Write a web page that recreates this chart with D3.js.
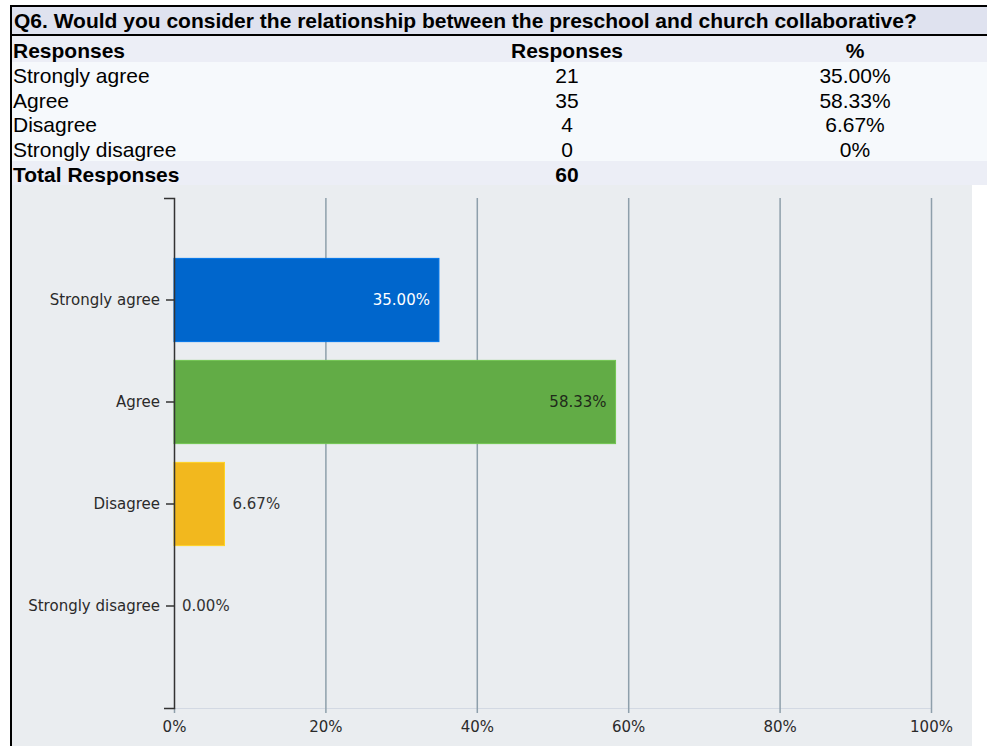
<!DOCTYPE html>
<html>
<head>
<meta charset="utf-8">
<script src="https://cdn.jsdelivr.net/npm/d3@7"></script>
<style>
  body { margin: 0; background: #fff; }
  svg { display: block; }
</style>
</head>
<body>
<div id="chart"></div>
<script>
// question + table data
const title = "Q6. Would you consider the relationship between the preschool and church collaborative?";
const categories = ["Strongly agree", "Agree", "Disagree", "Strongly disagree"];
const counts = [21, 35, 4, 0];
const tablePct = ["35.00%", "58.33%", "6.67%", "0%"];
const totalResponses = 60;
// bar values (percent)
const percents = [35.00, 58.33, 6.67, 0];
const barColors = ["#0066cc", "#62ac46", "#f2b81e", "#999999"];
const labelColors = ["#ffffff", "#1f2a1a", "#333333", "#333333"];
const xTicks = [0, 20, 40, 60, 80, 100];

const W = 987, H = 746;
const tableFont = "Liberation Sans, Arial, sans-serif";
const chartFont = "DejaVu Sans, Verdana, sans-serif";

const svg = d3.select("#chart")
    .append("svg")
    .attr("width", W)
    .attr("height", H);

// ---- table part ----
svg.append("rect").attr("x", 12).attr("y", 7).attr("width", W - 12).attr("height", 27).attr("fill", "#dfe2ef");
svg.append("rect").attr("x", 12).attr("y", 36).attr("width", W - 12).attr("height", 26).attr("fill", "#eceef6");
svg.append("rect").attr("x", 12).attr("y", 62).attr("width", W - 12).attr("height", 99).attr("fill", "#f6f9fc");
svg.append("rect").attr("x", 12).attr("y", 161).attr("width", W - 12).attr("height", 24).attr("fill", "#eceef6");

// borders
svg.append("rect").attr("x", 10).attr("y", 5).attr("width", W - 10).attr("height", 2).attr("fill", "#000");
svg.append("rect").attr("x", 10).attr("y", 34).attr("width", W - 10).attr("height", 2).attr("fill", "#000");
svg.append("rect").attr("x", 10).attr("y", 5).attr("width", 2).attr("height", H - 5).attr("fill", "#000");

svg.append("text")
    .attr("x", 14).attr("y", 28)
    .style("font-family", tableFont).style("font-size", "21px").style("font-weight", "bold")
    .text(title);

const colX = [13, 567, 855];
const header = svg.append("g")
    .style("font-family", tableFont).style("font-size", "21px").style("font-weight", "bold");
header.append("text").attr("x", colX[0]).attr("y", 58).text("Responses");
header.append("text").attr("x", colX[1]).attr("y", 58).attr("text-anchor", "middle").text("Responses");
header.append("text").attr("x", colX[2]).attr("y", 58).attr("text-anchor", "middle").text("%");

const rowY = d3.scaleLinear().domain([0, 1]).range([83, 107.7]);
const rows = svg.append("g")
    .style("font-family", tableFont).style("font-size", "21px")
    .selectAll("g")
    .data(categories)
    .join("g")
    .attr("transform", (d, i) => `translate(0,${rowY(i)})`);
rows.append("text").attr("x", colX[0]).text(d => d);
rows.append("text").attr("x", colX[1]).attr("text-anchor", "middle").text((d, i) => counts[i]);
rows.append("text").attr("x", colX[2]).attr("text-anchor", "middle").text((d, i) => tablePct[i]);

const totalRow = svg.append("g")
    .style("font-family", tableFont).style("font-size", "21px").style("font-weight", "bold");
totalRow.append("text").attr("x", colX[0]).attr("y", 182).text("Total Responses");
totalRow.append("text").attr("x", colX[1]).attr("y", 182).attr("text-anchor", "middle").text(totalResponses);

// ---- chart part ----
svg.append("rect").attr("x", 12).attr("y", 185).attr("width", 960).attr("height", H - 185).attr("fill", "#eaedf0");

const x = d3.scaleLinear().domain([0, 100]).range([174, 931]);
const y = d3.scaleBand().domain(categories).range([198, 708])
    .paddingInner(0.184).paddingOuter(0.592);

// bottom axis with grid lines
const xAxis = svg.append("g")
    .attr("transform", "translate(0,708)")
    .call(d3.axisBottom(x).tickValues(xTicks).tickFormat(d => d + "%").tickSize(0).tickSizeOuter(0));
xAxis.select(".domain").attr("stroke", "#d3d9e3").attr("stroke-width", 1);
xAxis.selectAll(".tick line")
    .attr("y1", d => d === 0 ? 0 : -510)
    .attr("y2", 5)
    .attr("stroke", "#8e9fab")
    .attr("stroke-width", 1.5);
xAxis.selectAll(".tick text")
    .attr("y", 24).attr("dy", 0)
    .attr("fill", "#2a2a2a")
    .style("font-family", chartFont).style("font-size", "15px");

// bars
svg.append("g")
    .selectAll("rect")
    .data(percents)
    .join("rect")
    .attr("x", x(0))
    .attr("y", (d, i) => y(categories[i]))
    .attr("width", d => x(d) - x(0))
    .attr("height", y.bandwidth())
    .attr("fill", (d, i) => barColors[i])
    .attr("stroke", (d, i) => d3.color(barColors[i]).brighter(0.4))
    .attr("stroke-width", d => d > 0 ? 1 : 0);

// bar labels, inside when the bar is wide enough
svg.append("g")
    .selectAll("text")
    .data(percents)
    .join("text")
    .attr("x", d => x(d) - x(0) > 80 ? x(d) - 9 : x(d) + 8)
    .attr("y", (d, i) => y(categories[i]) + y.bandwidth() / 2)
    .attr("dy", "0.35em")
    .attr("text-anchor", d => x(d) - x(0) > 80 ? "end" : "start")
    .attr("fill", (d, i) => labelColors[i])
    .style("font-family", chartFont).style("font-size", "15px")
    .text(d => d3.format(".2f")(d) + "%");

// left axis
const yAxis = svg.append("g")
    .attr("transform", `translate(${x(0)},0)`)
    .call(d3.axisLeft(y).tickSizeInner(8).tickSizeOuter(10).tickPadding(6));
yAxis.select(".domain").attr("stroke", "#333").attr("stroke-width", 1.5);
yAxis.selectAll(".tick line").attr("stroke", "#333").attr("stroke-width", 1.5);
yAxis.selectAll(".tick text")
    .attr("fill", "#2a2a2a")
    .style("font-family", chartFont).style("font-size", "15px");
</script>
</body>
</html>
